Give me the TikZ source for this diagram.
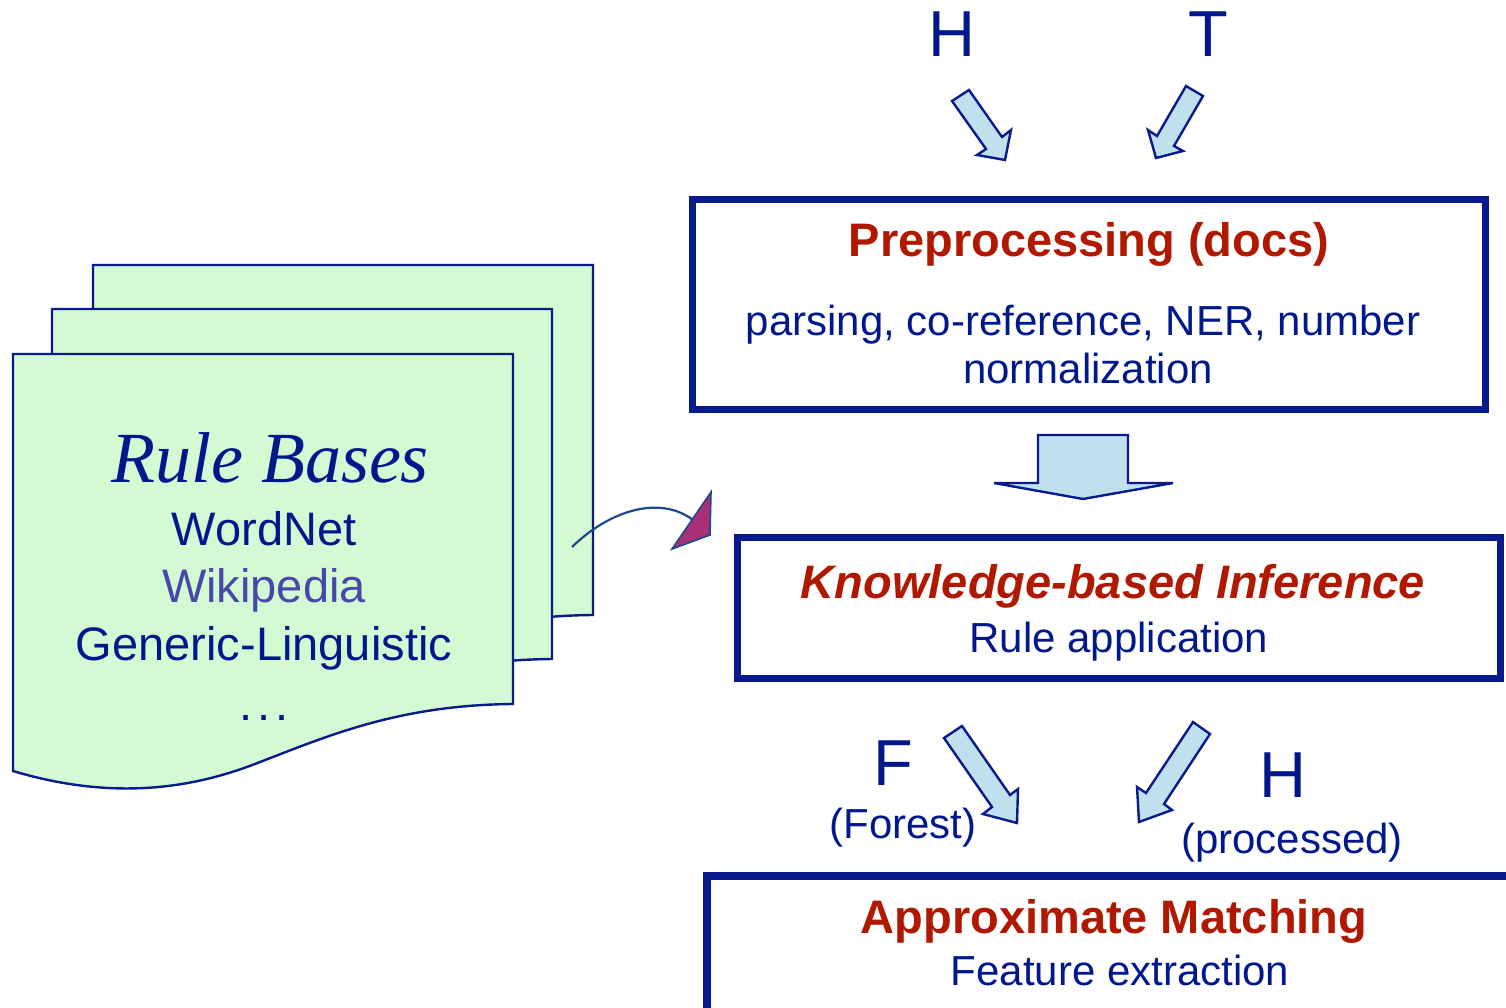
\documentclass[tikz,border=0pt]{standalone}
\usepackage{fontspec}
\setmainfont{Liberation Sans}
\newfontfamily\rulefont{Liberation Serif}
\definecolor{tblue}{RGB}{0,24,140}
\definecolor{bordblue}{RGB}{8,26,140}
\definecolor{tred}{RGB}{176,24,0}
\definecolor{wiki}{RGB}{72,72,170}
\definecolor{pagegreen}{RGB}{212,250,212}
\definecolor{arrowfill}{RGB}{192,224,238}
\definecolor{tipfill}{RGB}{168,48,120}
\definecolor{curveblue}{RGB}{26,74,140}
\newcommand\myfs[1]{\fontsize{#1}{#1}\selectfont}
\newcommand\pageshape{(13,354) -- (513,354) -- (513,704) .. controls (400,705) and (330,735) .. (260,762) .. controls (190,790) and (110,800) .. (13,771) -- cycle}
\begin{document}
\begin{tikzpicture}[x=1pt,y=-1pt,
  lbl/.style={inner sep=0pt, anchor=base, text=tblue},
  blockarrow/.style={draw=bordblue, fill=arrowfill, line width=2.4pt, line join=miter},
  stagebox/.style={draw=bordblue, line width=7pt, inner sep=0pt},
  docpage/.style={draw=bordblue, fill=pagegreen, line width=2.4pt, line join=miter}]
\useasboundingbox (0,0) rectangle (1506,1008);
\clip (0,0) rectangle (1506,1008);

% document stack
\begin{scope}[shift={(80,-89)}]
  \draw[docpage] \pageshape;
\end{scope}
\begin{scope}[shift={(39,-45)}]
  \draw[docpage] \pageshape;
\end{scope}
\draw[docpage] \pageshape;

\node[lbl, font=\rulefont\itshape\myfs{72}] (rb) at (270,482) {Rule Bases};
\node[lbl, font=\myfs{47}] (wn) at (264,545) {WordNet};
\node[lbl, font=\myfs{47}, text=wiki] (wp) at (264,602) {Wikipedia};
\node[lbl, font=\myfs{47}] (gl) at (264,660) {Generic-Linguistic};
\node[lbl, font=\myfs{47}] (dots) at (264,720) {.\kern0.1em.\kern0.1em.};

% curved arrow from rule bases
\coordinate (cs) at (572,547);
\coordinate (ce) at (693,520);
\draw[curveblue, line width=2.2pt] (cs) .. controls (610,510) and (660,495) .. (ce);
\draw[draw=curveblue, fill=tipfill, line width=1.6pt, line join=miter] (711,492) -- (710,535) -- (672,549) -- cycle;

% top labels and arrows
\node[lbl, font=\myfs{65}] (h1) at (952,57) {H};
\node[lbl, font=\myfs{65}] (t1) at (1208,57) {T};
\draw[blockarrow] (952,101) -- (969,90) -- (1002,137) -- (1011,130) -- (1005,160) -- (977,155) -- (986,149) -- cycle;
\draw[blockarrow] (1186,86) -- (1203,96) -- (1174,146) -- (1183,151) -- (1156,158) -- (1148,130) -- (1157,136) -- cycle;

% preprocessing box
\node[stagebox, minimum width=793pt, minimum height=209pt] (pre) at (1088.5,304.5) {};
\node[lbl, text=tred, font=\bfseries\myfs{47}] (pret) at (1089,257) {Preprocessing (docs)};
\node[lbl, font=\myfs{42}] (preb1) at (1083,335) {parsing, co-reference, NER, number};
\node[lbl, font=\myfs{42}] (preb2) at (1088,383) {normalization};

% big arrow
\draw[blockarrow] (1038,435) -- (1128,435) -- (1128,483) -- (1173,483) -- (1083,499) -- (994,483) -- (1038,483) -- cycle;

% knowledge box
\node[stagebox, minimum width=763pt, minimum height=141pt] (kb) at (1118.5,607.5) {};
\node[lbl, text=tred, font=\bfseries\itshape\myfs{47}] (kbt) at (1113,598) {Knowledge-based Inference};
\node[lbl, font=\myfs{42}] (kbb) at (1119,652) {Rule application};

% F and H arrows
\node[lbl, font=\myfs{65}] (f) at (893,785) {F};
\node[lbl, font=\myfs{42}] (forest) at (903,838) {(Forest)};
\node[lbl, font=\myfs{65}] (h2) at (1283,797) {H};
\node[lbl, font=\myfs{42}] (proc) at (1292,853) {(processed)};
\draw[blockarrow] (944,738) -- (962,726) -- (1010,795) -- (1018,789) -- (1017,823) -- (983,814) -- (992,807) -- cycle;
\draw[blockarrow] (1193,722) -- (1210,734) -- (1164,804) -- (1172,810) -- (1139,822) -- (1137,787) -- (1146,793) -- cycle;

% approximate matching box
\node[stagebox, line width=7.5pt, minimum width=823pt, minimum height=154pt] (am) at (1118.5,953) {};
\node[lbl, text=tred, font=\bfseries\myfs{47}] (amt) at (1114,933) {Approximate Matching};
\node[lbl, font=\myfs{42}] (amb) at (1120,985) {Feature extraction};
\end{tikzpicture}
\end{document}
